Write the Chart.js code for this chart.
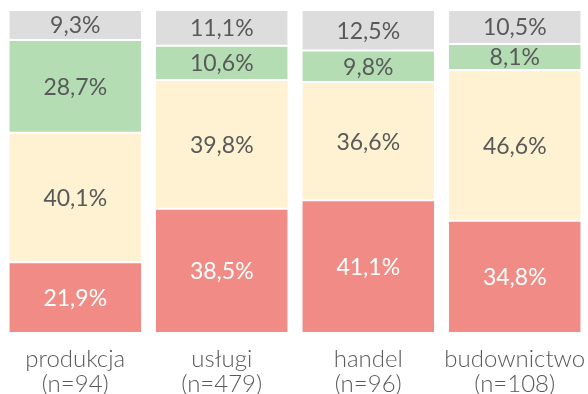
<!DOCTYPE html>
<html>
<head>
<meta charset="utf-8">
<script src="https://cdn.jsdelivr.net/npm/chart.js@4/dist/chart.umd.min.js"></script>
<style>
  html, body { margin: 0; padding: 0; background: #ffffff; }
  #wrap { width: 588px; height: 394px; }
</style>
</head>
<body>
<div id="wrap"><canvas id="c" width="588" height="394"></canvas></div>
<script>
// Sector names with sample sizes (two-line tick labels)
const sectors = ['produkcja', 'usługi', 'handel', 'budownictwo'];
const sampleSizes = [94, 479, 96, 108];

// Share of answers per sector, in percent (bottom to top)
const redValues = [21.9, 38.5, 41.1, 34.8];
const yellowValues = [40.1, 39.8, 36.6, 46.6];
const greenValues = [28.7, 10.6, 9.8, 8.1];
const greyValues = [9.3, 11.1, 12.5, 10.5];

const labels = sectors.map((s, i) => [s, '(n=' + sampleSizes[i] + ')']);

const FONT = 'Lato, "Open Sans", sans-serif';
const TEXT = '#595959';

function segment(values, color, textColor) {
  return {
    data: values,
    backgroundColor: color,
    borderColor: '#ffffff',
    borderWidth: { top: 1, bottom: 1, left: 0, right: 0 },
    borderSkipped: false,
    textColor: textColor,
    barPercentage: 0.9,
    categoryPercentage: 1.0
  };
}

// Writes each segment's value in its middle, Polish decimal comma
const valueLabels = {
  id: 'valueLabels',
  afterDatasetsDraw(chart) {
    const ctx = chart.ctx;
    ctx.save();
    ctx.font = '23px ' + FONT;
    ctx.textAlign = 'center';
    ctx.textBaseline = 'middle';
    chart.data.datasets.forEach((ds, di) => {
      const meta = chart.getDatasetMeta(di);
      meta.data.forEach((bar, i) => {
        const v = ds.data[i];
        const txt = v.toFixed(1).replace('.', ',') + '%';
        ctx.fillStyle = ds.textColor;
        ctx.fillText(txt, bar.x, (bar.y + bar.base) / 2 + 1);
      });
    });
    ctx.restore();
  }
};

new Chart(document.getElementById('c'), {
  type: 'bar',
  data: {
    labels: labels,
    datasets: [
      segment(redValues, '#F08C85', '#ffffff'),
      segment(yellowValues, '#FFF2D3', TEXT),
      segment(greenValues, '#B4DDB4', TEXT),
      segment(greyValues, '#DDDDDD', TEXT)
    ]
  },
  options: {
    responsive: false,
    animation: false,
    layout: { padding: { top: 10, left: 2, right: 0, bottom: -17 } },
    plugins: { legend: { display: false }, tooltip: { enabled: false } },
    scales: {
      x: {
        stacked: true,
        grid: { display: false, drawTicks: false },
        border: { display: false },
        // let the outer labels overhang so the bars span the full width
        afterFit(scale) {
          scale.paddingLeft = 0;
          scale.paddingRight = 0;
        },
        ticks: {
          color: TEXT,
          font: { family: FONT, size: 24, weight: 300, lineHeight: 1.04 },
          padding: 14,
          maxRotation: 0,
          autoSkip: false
        }
      },
      y: {
        stacked: true,
        display: false,
        min: 0,
        max: 100
      }
    }
  },
  plugins: [valueLabels]
});
</script>
</body>
</html>
